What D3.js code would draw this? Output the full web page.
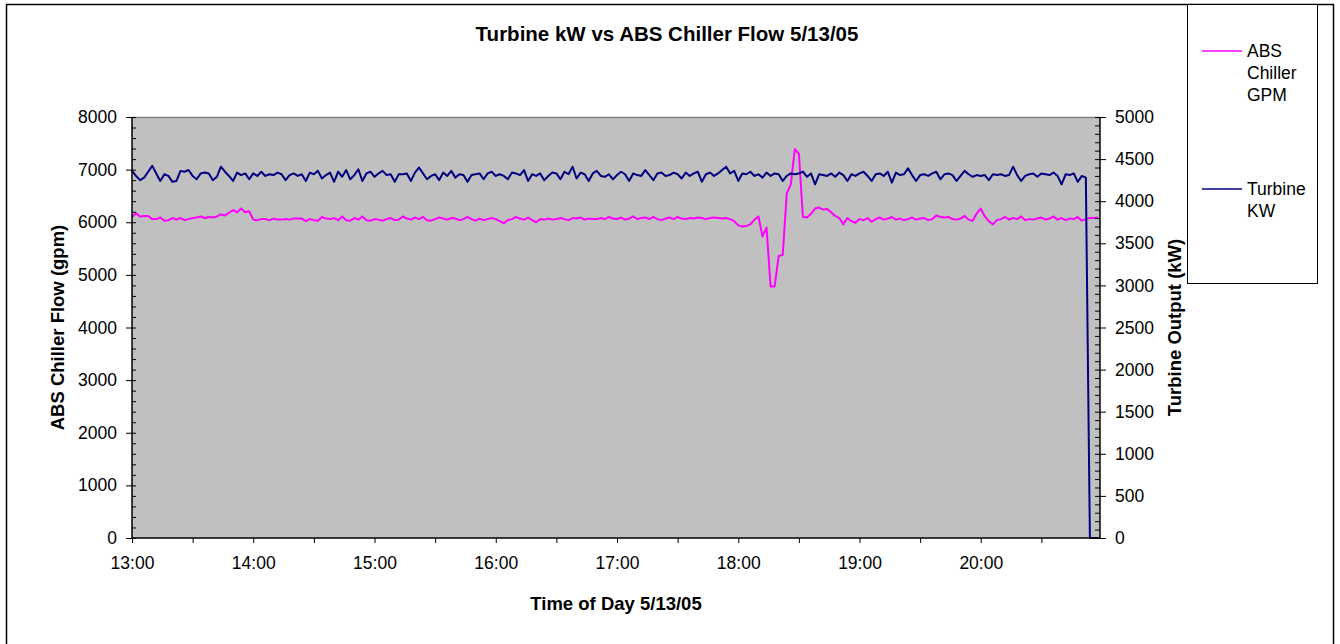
<!DOCTYPE html>
<html>
<head>
<meta charset="utf-8">
<script src="https://cdn.jsdelivr.net/npm/d3@7"></script>
<style>
    body { margin: 0; background: #fff; }
    svg { display: block; font-family: "Liberation Sans", Arial, sans-serif; }
</style>
</head>
<body>
<div id="chart"></div>
<script>
// logger readings, one every 2 minutes starting 13:00
const startTime = new Date(2005, 4, 13, 13, 0);
const endTime = new Date(2005, 4, 13, 20, 59);
const sampleMinutes = 2;

// ABS chiller flow (gpm), one row = half an hour
const chillerGpm = [
    6100, 6170, 6110, 6120, 6120, 6060, 6060, 6090, 6030, 6040, 6080, 6050, 6080, 6040, 6060,
    6080, 6090, 6110, 6080, 6100, 6090, 6110, 6150, 6130, 6180, 6230, 6190, 6260, 6190, 6210,
    6050, 6040, 6060, 6060, 6040, 6070, 6050, 6050, 6060, 6050, 6070, 6070, 6070, 6020, 6060,
    6040, 6030, 6100, 6070, 6060, 6080, 6040, 6110, 6040, 6030, 6080, 6050, 6110, 6040, 6030,
    6060, 6050, 6030, 6060, 6080, 6040, 6050, 6110, 6070, 6050, 6090, 6060, 6100, 6040, 6030,
    6060, 6090, 6070, 6050, 6080, 6070, 6040, 6060, 6100, 6060, 6030, 6070, 6040, 6060, 6080,
    6060, 6020, 5980, 6040, 6060, 6100, 6070, 6050, 6090, 6040, 6000, 6060, 6050, 6070, 6050,
    6060, 6080, 6060, 6040, 6080, 6070, 6090, 6050, 6070, 6060, 6060, 6080, 6060, 6100, 6070,
    6060, 6090, 6050, 6070, 6110, 6060, 6080, 6090, 6060, 6100, 6060, 6040, 6070, 6090, 6060,
    6100, 6070, 6060, 6080, 6070, 6090, 6080, 6060, 6080, 6090, 6080, 6070, 6080, 6060, 6020,
    5940, 5920, 5930, 5960, 6050, 6110, 5730, 5900, 4780, 4780, 5360, 5380, 6550, 6720, 7390,
    7300, 6100, 6090, 6160, 6260, 6280, 6240, 6250, 6190, 6120, 6080, 5960, 6080, 6020, 5990,
    6060, 6040, 6080, 6010, 6060, 6090, 6050, 6070, 6100, 6050, 6070, 6040, 6060, 6090, 6050,
    6070, 6080, 6040, 6060, 6130, 6100, 6090, 6100, 6060, 6050, 6070, 6120, 6050, 6030, 6170,
    6260, 6110, 6020, 5960, 6040, 6060, 6100, 6050, 6080, 6060, 6110, 6040, 6060, 6050, 6070,
    6090, 6050, 6070, 6110, 6050, 6080, 6040, 6070, 6060, 6100, 6030, 6060, 6080, 6080, 6090
];

// turbine output (kW), same timestamps
const turbineKw = [
    4360, 4300, 4250, 4280, 4350, 4420, 4330, 4240, 4320, 4300, 4230, 4240, 4360, 4350, 4370,
    4300, 4260, 4330, 4340, 4330, 4250, 4290, 4410, 4350, 4300, 4240, 4340, 4310, 4330, 4260,
    4330, 4300, 4350, 4300, 4320, 4310, 4340, 4320, 4250, 4310, 4330, 4300, 4320, 4240, 4340,
    4320, 4360, 4270, 4310, 4340, 4230, 4350, 4290, 4370, 4260, 4310, 4380, 4240, 4330, 4350,
    4290, 4330, 4360, 4310, 4320, 4230, 4320, 4320, 4330, 4240, 4340, 4400, 4330, 4260, 4300,
    4320, 4250, 4340, 4300, 4360, 4280, 4320, 4310, 4230, 4310, 4320, 4330, 4260, 4330, 4350,
    4300, 4320, 4300, 4260, 4340, 4330, 4310, 4370, 4240, 4320, 4300, 4330, 4250, 4300, 4340,
    4330, 4260, 4350, 4320, 4410, 4270, 4340, 4320, 4240, 4330, 4360, 4300, 4290, 4320, 4260,
    4310, 4350, 4320, 4240, 4330, 4310, 4300, 4370, 4310, 4250, 4330, 4340, 4300, 4310, 4340,
    4320, 4270, 4340, 4300, 4330, 4350, 4230, 4320, 4340, 4300, 4330, 4370, 4410, 4330, 4360,
    4240, 4330, 4320, 4350, 4300, 4320, 4280, 4340, 4300, 4330, 4320, 4240, 4300, 4330, 4320,
    4330, 4350, 4290, 4330, 4200, 4320, 4310, 4300, 4330, 4290, 4340, 4310, 4240, 4320, 4300,
    4330, 4350, 4300, 4240, 4320, 4330, 4300, 4350, 4220, 4340, 4310, 4320, 4390, 4310, 4240,
    4310, 4320, 4300, 4330, 4350, 4260, 4320, 4330, 4310, 4240, 4300, 4360, 4320, 4290, 4310,
    4300, 4310, 4250, 4320, 4310, 4320, 4300, 4310, 4410, 4310, 4240, 4300, 4320, 4330, 4290,
    4330, 4320, 4310, 4340, 4300, 4200, 4320, 4310, 4330, 4230, 4300, 4280, 0, 0, 0
];

const leftTicks = [0, 1000, 2000, 3000, 4000, 5000, 6000, 7000, 8000];
const rightTicks = [0, 500, 1000, 1500, 2000, 2500, 3000, 3500, 4000, 4500, 5000];
const legendLabels = [["ABS", "Chiller", "GPM"], ["Turbine", "KW"]];
const seriesColors = ["#ff00ff", "#000080"];

const width = 1340;
const height = 644;
const plot = {left: 132, top: 117, right: 1100, bottom: 538};

const svg = d3.select('#chart').append('svg')
    .attr('width', width)
    .attr('height', height)
    .style('background', '#fff');

// outer frame
svg.append('rect')
    .attr('x', 6.5).attr('y', 4.5)
    .attr('width', 1327).attr('height', 660)
    .attr('fill', 'none').attr('stroke', '#000').attr('stroke-width', 1.5);

const times = chillerGpm.map((d, i) => d3.timeMinute.offset(startTime, i * sampleMinutes));

const x = d3.scaleTime().domain([startTime, endTime]).range([plot.left, plot.right]);
const yL = d3.scaleLinear().domain([0, 8000]).range([plot.bottom, plot.top]);
const yR = d3.scaleLinear().domain([0, 5000]).range([plot.bottom, plot.top]);

// plot area
svg.append('rect')
    .attr('x', plot.left).attr('y', plot.top)
    .attr('width', plot.right - plot.left).attr('height', plot.bottom - plot.top)
    .attr('fill', '#c0c0c0');
svg.append('line')
    .attr('x1', plot.left).attr('x2', plot.right)
    .attr('y1', plot.top + 0.5).attr('y2', plot.top + 0.5)
    .attr('stroke', '#808080').attr('stroke-width', 1.5);

// series
const chillerLine = d3.line().x((d, i) => x(times[i])).y(d => yL(d));
const turbineLine = d3.line().x((d, i) => x(times[i])).y(d => yR(d));

svg.append('path')
    .datum(chillerGpm)
    .attr('d', chillerLine)
    .attr('fill', 'none').attr('stroke', seriesColors[0]).attr('stroke-width', 2)
    .attr('stroke-linejoin', 'round');

svg.append('path')
    .datum(turbineKw)
    .attr('d', turbineLine)
    .attr('fill', 'none').attr('stroke', seriesColors[1]).attr('stroke-width', 2)
    .attr('stroke-linejoin', 'round');

// axes
function styleAxis(g) {
    g.selectAll('.domain').remove();
    g.selectAll('line').attr('stroke', '#000');
    g.selectAll('text').attr('fill', '#000').style('font-size', '17.5px');
}

const leftMinor = d3.range(0, 8001, 200);
const rightMinor = d3.range(0, 5001, 100);
const plain = d3.format('d');

svg.append('g')
    .attr('transform', `translate(${plot.left},0)`)
    .call(d3.axisLeft(yL).tickValues(leftTicks).tickSize(6).tickPadding(9).tickFormat(plain))
    .call(styleAxis);
svg.append('g')
    .attr('transform', `translate(${plot.left},0)`)
    .call(d3.axisRight(yL).tickValues(leftMinor).tickSize(4).tickFormat(''))
    .call(styleAxis);

svg.append('g')
    .attr('transform', `translate(${plot.right},0)`)
    .call(d3.axisRight(yR).tickValues(rightTicks).tickSize(6).tickPadding(9).tickFormat(plain))
    .call(styleAxis);
svg.append('g')
    .attr('transform', `translate(${plot.right},0)`)
    .call(d3.axisLeft(yR).tickValues(rightMinor).tickSize(5).tickFormat(''))
    .call(styleAxis);

const xTicks = d3.timeMinute.every(30).range(startTime, endTime);
svg.append('g')
    .attr('transform', `translate(0,${plot.bottom})`)
    .call(d3.axisBottom(x).tickValues(xTicks).tickSize(5).tickPadding(14)
        .tickFormat(d => d.getMinutes() === 0 ? d3.timeFormat('%H:%M')(d) : ''))
    .call(styleAxis);

// axis lines
svg.append('line')
    .attr('x1', plot.left).attr('x2', plot.left)
    .attr('y1', plot.top).attr('y2', plot.bottom)
    .attr('stroke', '#000').attr('stroke-width', 1.5);
svg.append('line')
    .attr('x1', plot.right).attr('x2', plot.right)
    .attr('y1', plot.top).attr('y2', plot.bottom)
    .attr('stroke', '#000').attr('stroke-width', 1.5);
svg.append('line')
    .attr('x1', plot.left).attr('x2', plot.right)
    .attr('y1', plot.bottom).attr('y2', plot.bottom)
    .attr('stroke', '#000').attr('stroke-width', 1.5);

// titles
svg.append('text')
    .attr('x', 667).attr('y', 41)
    .attr('text-anchor', 'middle')
    .style('font-size', '20.5px').style('font-weight', 'bold')
    .text('Turbine kW vs ABS Chiller Flow 5/13/05');

svg.append('text')
    .attr('x', (plot.left + plot.right) / 2).attr('y', 610)
    .attr('text-anchor', 'middle')
    .style('font-size', '18.5px').style('font-weight', 'bold')
    .text('Time of Day 5/13/05');

svg.append('text')
    .attr('transform', `translate(64,${(plot.top + plot.bottom) / 2}) rotate(-90)`)
    .attr('text-anchor', 'middle')
    .style('font-size', '18.5px').style('font-weight', 'bold')
    .text('ABS Chiller Flow (gpm)');

svg.append('text')
    .attr('transform', `translate(1181,${(plot.top + plot.bottom) / 2}) rotate(-90)`)
    .attr('text-anchor', 'middle')
    .style('font-size', '18.5px').style('font-weight', 'bold')
    .text('Turbine Output (kW)');

// legend
svg.append('rect')
    .attr('x', 1187.5).attr('y', 4.5)
    .attr('width', 130).attr('height', 279)
    .attr('fill', '#fff').attr('stroke', '#000').attr('stroke-width', 1);

const legendY = [51, 189];
legendLabels.forEach((lines, k) => {
    svg.append('line')
        .attr('x1', 1202).attr('x2', 1242)
        .attr('y1', legendY[k]).attr('y2', legendY[k])
        .attr('stroke', seriesColors[k]).attr('stroke-width', 1.5);
    lines.forEach((t, j) => {
        svg.append('text')
            .attr('x', 1247).attr('y', legendY[k] + 6 + j * 22)
            .style('font-size', '17.5px')
            .text(t);
    });
});
</script>
</body>
</html>
